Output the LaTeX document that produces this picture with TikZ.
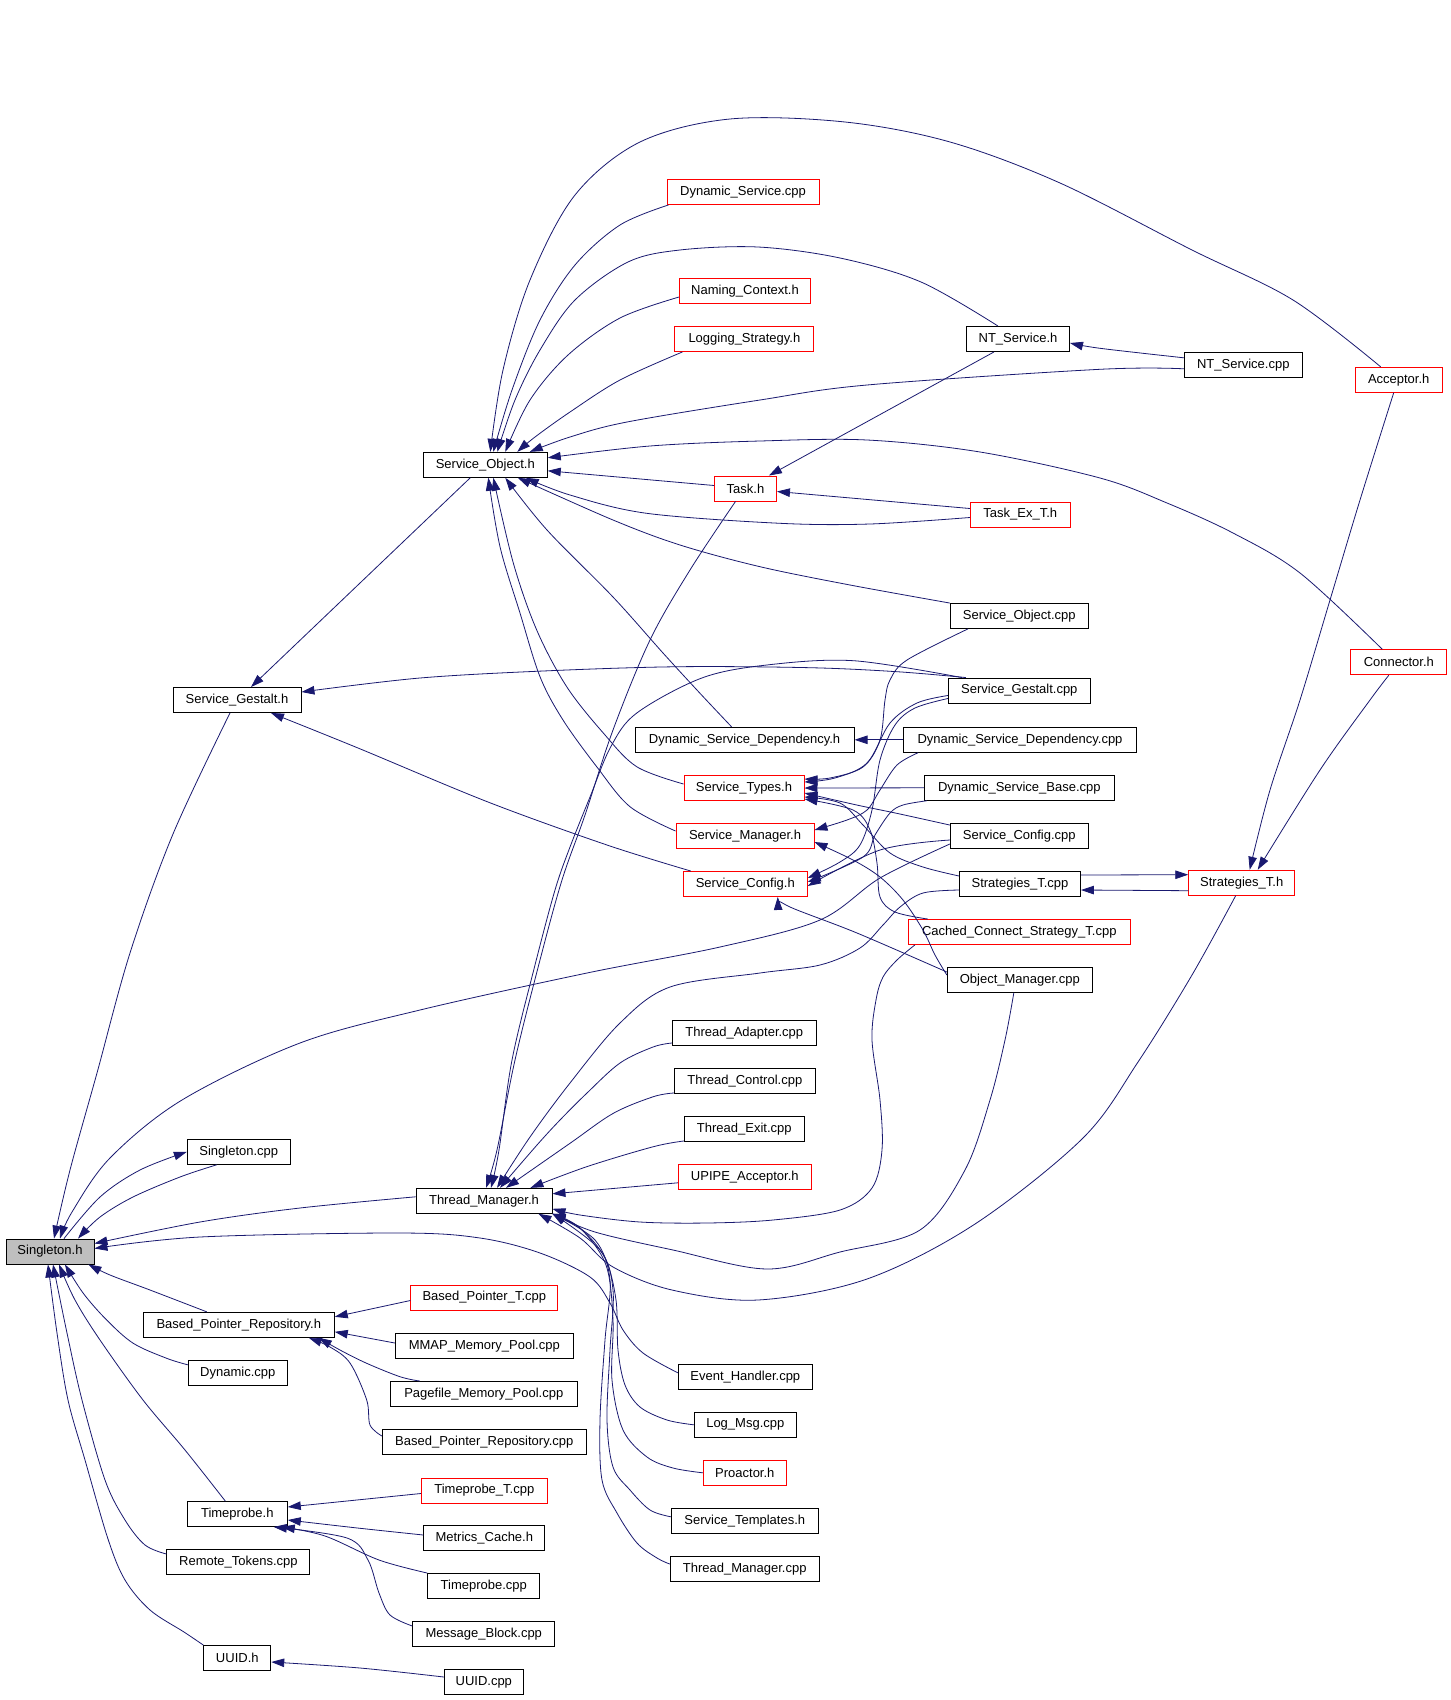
\documentclass[tikz,border=0pt]{standalone}
\usepackage{fontspec}
\setmainfont{Liberation Sans}
\usetikzlibrary{arrows.meta}
\definecolor{mb}{HTML}{191970}
\definecolor{rd}{HTML}{FF0000}
\definecolor{gr}{HTML}{BFBFBF}
\tikzset{
 box/.style={draw=black, line width=0.9pt, rectangle, minimum height=25pt, inner sep=0pt, font=\fontsize{13}{15}\selectfont},
 rbox/.style={box, draw=rd},
 e/.style={draw=mb, line width=0.8pt, -{Triangle[length=13pt,width=8.5pt]}},
}
\newcommand\dedge[1]{\draw[e] plot[smooth, tension=0.55] coordinates {#1};}
\begin{document}
\begin{tikzpicture}[x=1pt,y=-1pt]
\fill[white] (0,0) rectangle (1451,1700);
\useasboundingbox (0,0) rectangle (1451,1700);
% nodes
\node[box, fill=gr, minimum width=88pt] (S) at (50,1251.5) {Singleton.h};
\node[box, minimum width=128pt] (SGh) at (237,700) {Service\_Gestalt.h};
\node[box, minimum width=124pt] (SOh) at (485.3,464.8) {Service\_Object.h};
\node[box, minimum width=103pt] (Scpp) at (238.8,1151.8) {Singleton.cpp};
\node[box, minimum width=136pt] (TMh) at (484,1200.8) {Thread\_Manager.h};
\node[box, minimum width=191pt] (BPRh) at (238.8,1324.8) {Based\_Pointer\_Repository.h};
\node[box, minimum width=99pt] (Dyncpp) at (237.8,1372.8) {Dynamic.cpp};
\node[box, minimum width=100pt] (TPh) at (237.3,1514) {Timeprobe.h};
\node[box, minimum width=143pt] (RTcpp) at (238.4,1562) {Remote\_Tokens.cpp};
\node[box, minimum width=67pt] (UUIDh) at (237.3,1658) {UUID.h};
\node[box, minimum width=79pt] (UUIDcpp) at (483.8,1682) {UUID.cpp};
\node[rbox, minimum width=147pt] (BPTcpp) at (484.3,1297.5) {Based\_Pointer\_T.cpp};
\node[box, minimum width=178pt] (MMAP) at (484.3,1346) {MMAP\_Memory\_Pool.cpp};
\node[box, minimum width=187pt] (Pagefile) at (483.8,1394) {Pagefile\_Memory\_Pool.cpp};
\node[box, minimum width=204pt] (BPRcpp) at (484.3,1442) {Based\_Pointer\_Repository.cpp};
\node[rbox, minimum width=126pt] (TPTcpp) at (484.3,1490.5) {Timeprobe\_T.cpp};
\node[box, minimum width=121pt] (MCh) at (484.3,1538) {Metrics\_Cache.h};
\node[box, minimum width=112pt] (TPcpp) at (483.8,1586) {Timeprobe.cpp};
\node[box, minimum width=142pt] (MBcpp) at (483.8,1634) {Message\_Block.cpp};
\node[rbox, minimum width=152pt] (DScpp) at (743,192) {Dynamic\_Service.cpp};
\node[rbox, minimum width=131pt] (NCh) at (745,291) {Naming\_Context.h};
\node[rbox, minimum width=139pt] (LSh) at (744.4,339) {Logging\_Strategy.h};
\node[rbox, minimum width=62pt] (Taskh) at (745.5,488.5) {Task.h};
\node[box, minimum width=219pt] (DSDh) at (744.6,739.8) {Dynamic\_Service\_Dependency.h};
\node[rbox, minimum width=120pt] (STh) at (744,788) {Service\_Types.h};
\node[rbox, minimum width=138pt] (SMh) at (745,836) {Service\_Manager.h};
\node[rbox, minimum width=124pt] (SCh) at (745.3,884) {Service\_Config.h};
\node[box, minimum width=144pt] (TAcpp) at (744.3,1033) {Thread\_Adapter.cpp};
\node[box, minimum width=141pt] (TCcpp) at (744.8,1081) {Thread\_Control.cpp};
\node[box, minimum width=120pt] (TEcpp) at (744.3,1129) {Thread\_Exit.cpp};
\node[rbox, minimum width=133pt] (UPIPEh) at (744.8,1176.8) {UPIPE\_Acceptor.h};
\node[box, minimum width=134pt] (EHcpp) at (745.3,1376.8) {Event\_Handler.cpp};
\node[box, minimum width=102pt] (LMcpp) at (745.3,1424.8) {Log\_Msg.cpp};
\node[rbox, minimum width=83pt] (Proh) at (744.8,1472.8) {Proactor.h};
\node[box, minimum width=147pt] (STmplh) at (744.8,1520.8) {Service\_Templates.h};
\node[box, minimum width=149pt] (TMcpp) at (744.7,1569) {Thread\_Manager.cpp};
\node[box, minimum width=103pt] (NTSh) at (1018,339) {NT\_Service.h};
\node[box, minimum width=118pt] (NTScpp) at (1243.3,364.8) {NT\_Service.cpp};
\node[rbox, minimum width=100pt] (TExh) at (1020.3,514.5) {Task\_Ex\_T.h};
\node[box, minimum width=138pt] (SOcpp) at (1019.3,616) {Service\_Object.cpp};
\node[box, minimum width=142pt] (SGcpp) at (1019.3,690.5) {Service\_Gestalt.cpp};
\node[box, minimum width=233pt] (DSDcpp) at (1020,739.8) {Dynamic\_Service\_Dependency.cpp};
\node[box, minimum width=190pt] (DSBcpp) at (1019.3,787.8) {Dynamic\_Service\_Base.cpp};
\node[box, minimum width=138pt] (SCcpp) at (1019.3,836) {Service\_Config.cpp};
\node[box, minimum width=121pt] (StTcpp) at (1020,884) {Strategies\_T.cpp};
\node[rbox, minimum width=222pt] (CCScpp) at (1019.3,932) {Cached\_Connect\_Strategy\_T.cpp};
\node[box, minimum width=145pt] (OMcpp) at (1019.8,980) {Object\_Manager.cpp};
\node[rbox, minimum width=106pt] (StTh) at (1241.7,882.7) {Strategies\_T.h};
\node[rbox, minimum width=87pt] (Acch) at (1398.7,379.8) {Acceptor.h};
\node[rbox, minimum width=96pt] (Conh) at (1398.8,662.3) {Connector.h};
% edges into Singleton.h
\dedge{([xshift=-7pt]SGh.south) (173,834) (130,953) (97,1073) (70,1170) ([xshift=4pt]S.north)}
\dedge{([xshift=14pt]S.north) (100,1197) (140,1170) (Scpp.west)}
\dedge{([xshift=-22pt]Scpp.south) (180,1177) (133,1197) (100,1217) ([xshift=28pt]S.north)}
\dedge{([yshift=-8pt]SCcpp.west) (880,878) (820,920) (720,947) (587,973) (420,1010) (300,1043) (182,1100) (110,1158) (72,1212) ([xshift=10pt]S.north)}
\dedge{([yshift=4pt]TMh.west) (300,1208) (200,1222) ([yshift=8pt]S.east)}
\dedge{([yshift=4pt]EHcpp.west) (643,1353) (623,1330) (610,1303) (590,1277) (540,1253) (480,1238) (400,1233) (200,1237) ([yshift=3pt]S.east)}
\dedge{([xshift=-32pt]BPRh.north) (150,1290) (110,1275) ([xshift=-6pt]S.south east)}
\dedge{([yshift=8pt]Dyncpp.west) (166.7,1358.3) (133.3,1343.3) (106.7,1320) (83.3,1293.3) ([xshift=15pt]S.south)}
\dedge{([xshift=-12pt]TPh.north) (185,1450) (143,1400) (100,1340) (75,1300) ([xshift=9pt]S.south)}
\dedge{([yshift=8pt]RTcpp.west) (145,1545) (125,1520) (105,1480) (82,1400) (67,1333) ([xshift=3pt]S.south)}
\dedge{(UUIDh.north west) (184,1632) (150,1610) (125,1580) (108,1539) (85,1460) (68,1400) (57,1333) ([xshift=-2pt]S.south)}
% Service_Gestalt.h
\draw[e] ([xshift=-15pt]SOh.south) -- ([xshift=14pt]SGh.north);
\dedge{([xshift=18pt]SGcpp.north west) (897,671.7) (810,667.7) (680,666.7) (550,670.7) (420,678) ([yshift=8pt]SGh.east)}
\dedge{([xshift=8pt]SCh.north west) (607,845) (488,802) (358,748) ([xshift=34pt]SGh.south)}
% Service_Object.h
\dedge{([xshift=-18pt]Acch.north) (1293,300) (1192,250) (1060,183) (950,142) (845,122) (730,119) (640,142) (575,195) (530,280) (503,370) ([xshift=5pt]SOh.north)}
\dedge{([xshift=2pt]DScpp.south west) (620,225) (575,265) (540,320) (512,390) ([xshift=8pt]SOh.north)}
\dedge{([xshift=-20pt]NTSh.north) (921,282) (840,258) (758,247) (680,250) (628,262) (575,300) (540,350) (515,400) ([xshift=12pt]SOh.north)}
\dedge{([yshift=-6pt]NCh.west) (620,318) (568,355) (530,400) ([xshift=20pt]SOh.north)}
\dedge{([xshift=8pt]LSh.south west) (620,380) (570,412) (535,437) ([xshift=32pt]SOh.north)}
\dedge{([yshift=-4pt]NTScpp.west) (1100,369.3) (867,385) (760,400) (627,422) (570,437) ([xshift=-18pt]SOh.north east)}
\dedge{([xshift=32pt]Conh.north west) (1300,573) (1233,533) (1167,503) (1100,478) (980,452) (867,440) (760,441) (650,446) ([yshift=7pt]SOh.east)}
\draw[e] ([yshift=3pt]Taskh.west) -- ([yshift=-6pt]SOh.east);
\dedge{([yshift=-3pt]TExh.west) (870,524) (780,523.3) (646.7,513.3) (570,495) ([xshift=-22pt]SOh.south east)}
\dedge{(SOcpp.north west) (850,585) (760,566.7) (680,545) (613,520) ([xshift=-30pt]SOh.south east)}
\dedge{([xshift=-13pt]DSDh.north) (700,693.3) (663,653) (613,597) (547,530) ([xshift=20pt]SOh.south)}
\dedge{([yshift=4pt]STh.west) (636.7,766.7) (603.3,733) (566.7,686.7) (536.7,630) (513.3,563) ([xshift=8pt]SOh.south)}
\dedge{([yshift=5pt]SMh.west) (630,806.7) (596.7,766.7) (563,720) (540,676.7) (520,613) (500,546.7) ([xshift=3pt]SOh.south)}
% Task.h
\draw[e] ([yshift=6pt]TExh.west) -- ([yshift=-3pt]Taskh.east);
\draw[e] ([xshift=-24pt]NTSh.south) -- ([xshift=-8pt]Taskh.north east);
% Thread_Manager.h
\dedge{([xshift=-10pt]Taskh.south) (690,570) (650,640) (613,730) (585,815) (562,880) (540,960) (515,1060) (497,1150) ([xshift=2pt]TMh.north)}
\dedge{([xshift=14pt]SGcpp.north west) (853.5,660.7) (766.8,665) (701.8,678) (636.8,713) (610.8,746.7) (590,797) (570,847) (555,890) (535,965) (512,1060) (499,1150) ([xshift=7pt]TMh.north)}
\dedge{([yshift=-10pt]TAcpp.west) (653,1047) (620,1063) (587,1093) (560,1120) (537,1145) ([xshift=16pt]TMh.north)}
\dedge{([yshift=-12pt]TCcpp.west) (653.3,1096.7) (613.3,1113.3) (570,1143.3) ([xshift=22pt]TMh.north)}
\dedge{([yshift=-12pt]TEcpp.west) (653.3,1146.7) (586.7,1166.7) ([xshift=-22pt]TMh.north east)}
\draw[e] ([yshift=-6pt]UPIPEh.west) -- ([yshift=7pt]TMh.east);
\dedge{([yshift=-6pt]StTcpp.west) (923,893) (900,907) (883,925) (860,948) (820,965) (760,973) (670,987) (620,1023) (570,1083) (530,1137) ([xshift=13pt]TMh.north)}
\dedge{([xshift=-6pt]OMcpp.south) (1005,1040) (990,1100) (965,1170) (920,1230) (840,1252) (766.7,1269) (673,1250) (595,1232) (TMh.south east)}
\dedge{([xshift=7pt]CCScpp.south west) (897,960) (883,977) (876,1000) (872,1040) (880,1100) (882,1150) (872,1188) (840,1210) (773,1220) (707,1223) (640,1222) (580,1215) ([yshift=-8pt]TMh.east)}
\dedge{([xshift=-6pt]StTh.south) (1192,975) (1138,1062) (1083,1138) (975,1224) (867,1279) (758,1300) (672,1290) (613,1267) (580,1238) ([xshift=-14pt]TMh.south east)}
\dedge{(LMcpp.west) (667,1420) (640,1407) (625,1385) (618,1350) (616,1300) (605,1258) (580,1228) (TMh.south east)}
\dedge{(Proh.west) (673,1468) (647,1457) (623,1430) (612,1380) (613,1320) (606,1265) (580,1228) (TMh.south east)}
\dedge{([yshift=4pt]STmplh.west) (650,1510) (630,1490) (613,1467) (607,1420) (610,1350) (613,1290) (600,1250) (TMh.south east)}
\dedge{([yshift=5pt]TMcpp.west) (657,1558) (637,1543) (617,1513) (602,1480) (600,1420) (605,1340) (610,1280) (595,1240) (TMh.south east)}
% Based_Pointer_Repository.h
\draw[e] ([yshift=-3pt]BPTcpp.west) -- ([yshift=8pt]BPRh.east);
\draw[e] ([yshift=3pt]MMAP.west) -- ([yshift=-7pt]BPRh.east);
\dedge{([xshift=30pt]Pagefile.north west) (400,1376.7) (366.7,1363.3) (340,1350) ([xshift=-16pt]BPRh.south east)}
\dedge{([yshift=6pt]BPRcpp.west) (370,1425) (366.7,1400) (350,1363) (330,1347) ([xshift=-26pt]BPRh.south east)}
% Timeprobe.h
\draw[e] ([yshift=-3pt]TPTcpp.west) -- ([yshift=7pt]TPh.east);
\dedge{([yshift=3pt]MCh.west) (357.5,1528) ([yshift=-6pt]TPh.east)}
\dedge{(TPcpp.north west) (379,1560) (325,1536) ([xshift=-6pt]TPh.south east)}
\dedge{([yshift=8pt]MBcpp.west) (390,1615) (379,1593) (368,1560) (347,1538) ([xshift=-14pt]TPh.south east)}
% UUID.h
\dedge{([yshift=5pt]UUIDcpp.west) (360,1668) ([yshift=-4pt]UUIDh.east)}
% NT_Service.h, Dynamic_Service_Dependency.h
\dedge{([yshift=7pt]NTScpp.west) (1100,348.3) ([yshift=-4pt]NTSh.east)}
\draw[e] (DSDcpp.west) -- (DSDh.east);
% Service_Types.h
\dedge{([xshift=18pt]SOcpp.south west) (907,660) (890,680) (885,700) (880,740) (863,767) (830,778) ([yshift=9pt]STh.east)}
\dedge{([yshift=-5pt]SGcpp.west) (917,703) (890,723) (867,763) (835,778) ([yshift=6pt]STh.east)}
\draw[e] (DSBcpp.west) -- (STh.east);
\dedge{([yshift=-2pt]SCcpp.north west) (896.7,813.3) (856.7,805) ([yshift=-5pt]STh.east)}
\dedge{([yshift=8pt]StTcpp.west) (923,867) (890,853) (863,825) (840,803) ([yshift=-9pt]STh.east)}
\dedge{([xshift=20pt]CCScpp.north west) (895,912) (880,897) (877,863) (870,830) (853,810) ([yshift=-11pt]STh.east)}
% Service_Manager.h
\dedge{([xshift=15pt]DSDcpp.south west) (897,765) (880,790) (867,810) (847,820) ([yshift=6pt]SMh.east)}
\dedge{([yshift=5pt]OMcpp.west) (935,955) (923,930) (903,900) (880,877) (853,860) ([yshift=-6pt]SMh.east)}
% Service_Config.h
\dedge{([yshift=-8pt]SGcpp.west) (915,708) (895,725) (880,760) (872,810) (860,845) (840,862) ([yshift=6pt]SCh.east)}
\dedge{([xshift=3pt]DSBcpp.south west) (903,805) (890,813) (875,835) (863,857) ([yshift=2pt]SCh.east)}
\dedge{([yshift=-4pt]SCcpp.west) (880,850) ([yshift=-2pt]SCh.east)}
\dedge{([yshift=8pt]OMcpp.west) (857,933) (790,907) ([xshift=-30pt]SCh.south east)}
% Strategies_T
\draw[e] ([yshift=9pt]StTcpp.east) -- ([yshift=8pt]StTh.west);
\draw[e] ([yshift=-8pt]StTh.west) -- ([yshift=-6pt]StTcpp.east);
\dedge{([xshift=-5pt]Acch.south) (1360,500) (1330,600) (1300,700) (1270,790) ([xshift=8pt]StTh.north)}
\dedge{([xshift=-10pt]Conh.south) (1370,700) (1320,770) ([xshift=16pt]StTh.north)}
\end{tikzpicture}
\end{document}
